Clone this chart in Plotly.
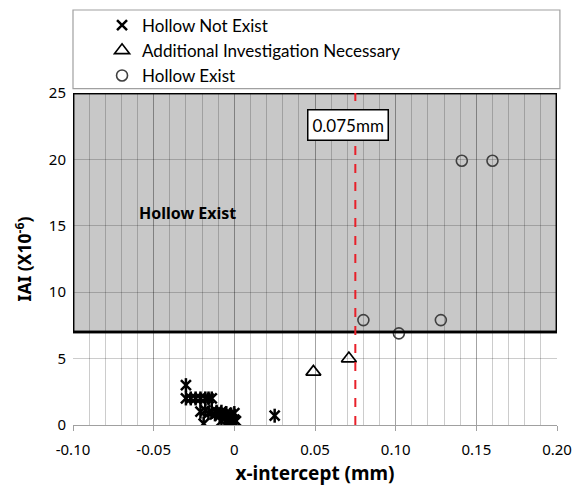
import plotly.graph_objects as go

# ---- data ----
not_exist_x = [-0.030, -0.030, -0.027, -0.024, -0.021, -0.018, -0.016, -0.014,
               -0.021, -0.018, -0.016, -0.014, -0.012, -0.011, -0.009, -0.008,
               -0.006, -0.005, -0.003, -0.002, 0.000, 0.000,
               -0.019, -0.008, -0.004, -0.001, 0.001, 0.025]
not_exist_y = [3.0, 2.0, 2.0, 2.0, 2.0, 2.0, 2.0, 2.0,
               1.0, 1.1, 0.9, 1.0, 0.8, 1.0, 0.7, 1.0,
               0.6, 0.9, 0.5, 0.8, 0.4, 0.9,
               0.1, 0.3, 0.2, 0.1, 0.3, 0.7]
additional_x = [0.049, 0.071]
additional_y = [4.0, 5.0]
exist_x = [0.080, 0.102, 0.128, 0.141, 0.160]
exist_y = [7.9, 6.9, 7.9, 19.9, 19.9]

threshold_x = 0.075
threshold_label = "0.075mm"
region_y_min = 7
x_min, x_max = -0.10, 0.20
y_min, y_max = 0, 25
x_tick_vals = [-0.10, -0.05, 0, 0.05, 0.10, 0.15, 0.20]
x_tick_text = ["-0.10", "-0.05", "0", "0.05", "0.10", "0.15", "0.20"]
y_tick_vals = [0, 5, 10, 15, 20, 25]

tick_font = dict(family="Noto Sans, Liberation Sans, sans-serif", size=15, color="#000")
title_font = dict(family="Noto Sans, Open Sans, sans-serif", size=19, color="#000")
ytitle_font = dict(family="Noto Sans, Open Sans, sans-serif", size=17.5, color="#000")
legend_font = dict(family="Lato, sans-serif", size=17, color="#000")

fig = go.Figure()

fig.add_trace(go.Scatter(
    x=not_exist_x, y=not_exist_y, mode="markers", name="Hollow Not Exist",
    legendgroup="a",
    marker=dict(symbol="x-thin-open", size=10, line=dict(color="#000", width=2.5), color="#000"),
))
fig.add_trace(go.Scatter(
    x=not_exist_x, y=not_exist_y, mode="markers", name="Hollow Not Exist",
    legendgroup="a", showlegend=False,
    marker=dict(symbol="line-ns-open", size=10, line=dict(color="#000", width=2.5), color="#000"),
))
fig.add_trace(go.Scatter(
    x=additional_x, y=additional_y, mode="markers", name="Additional Investigation Necessary",
    marker=dict(symbol="triangle-up-open", size=13, line=dict(color="#000", width=1.7), color="#000"),
))
fig.add_trace(go.Scatter(
    x=exist_x, y=exist_y, mode="markers", name="Hollow Exist",
    marker=dict(symbol="circle-open", size=11, line=dict(color="#404040", width=1.6), color="#404040"),
))

# shaded "Hollow Exist" region
fig.add_shape(type="rect", xref="x", yref="y", x0=x_min, x1=x_max, y0=region_y_min, y1=y_max,
              fillcolor="#c8c8c8", line=dict(color="#000", width=2.5), layer="below")
fig.add_shape(type="rect", xref="x", yref="y", x0=x_min, x1=x_max, y0=region_y_min, y1=y_max,
              fillcolor="rgba(0,0,0,0)", line=dict(color="#000", width=2.5), layer="above")
# threshold line
fig.add_shape(type="line", xref="x", yref="y", x0=threshold_x, x1=threshold_x, y0=y_min, y1=y_max,
              line=dict(color="#e8202a", width=2, dash="dash"), layer="above")
# legend box
fig.add_shape(type="rect", xref="paper", yref="paper", x0=0, x1=1.006, y0=1.013, y1=1.25,
              fillcolor="white", line=dict(color="#a0a0a0", width=1.2), layer="below")

fig.add_annotation(x=0.0705, y=22.6, xref="x", yref="y", text=threshold_label, showarrow=False,
                   font=dict(family="Lato, sans-serif", size=17, color="#000"),
                   bgcolor="white", bordercolor="#000", borderwidth=1.5, borderpad=4)
fig.add_annotation(x=-0.0605, y=16.0, xref="x", yref="y", text="<b>Hollow Exist</b>", showarrow=False,
                   xanchor="left", font=dict(family="Noto Sans, sans-serif", size=16, color="#000"))

fig.update_layout(
    width=574, height=486,
    margin=dict(l=73, r=17, t=93, b=61, autoexpand=False),
    paper_bgcolor="white", plot_bgcolor="white",
    showlegend=True,
    legend=dict(x=0.06, y=1.257, xanchor="left", yanchor="top", bgcolor="rgba(0,0,0,0)",
                borderwidth=0, font=legend_font, tracegroupgap=0, traceorder="normal"),
    xaxis=dict(range=[x_min, x_max], tickvals=x_tick_vals, ticktext=x_tick_text,
               automargin=False,
               showgrid=True, gridcolor="rgba(0,0,0,0.2)", gridwidth=1,
               minor=dict(dtick=0.01, showgrid=True, gridcolor="rgba(0,0,0,0.2)", gridwidth=1),
               ticks="outside", ticklen=5, tickcolor="#a0a0a0", ticklabelstandoff=6,
               showline=True, linecolor="#a0a0a0", linewidth=1,
               zeroline=False, tickfont=tick_font,
               title=dict(text="<b>x-intercept (mm)</b>", font=title_font, standoff=9)),
    yaxis=dict(range=[y_min, y_max], tickvals=y_tick_vals, automargin=False,
               showgrid=True, gridcolor="rgba(0,0,0,0.2)", gridwidth=1,
               zeroline=False, showline=False, ticks="", tickfont=tick_font,
               ticklabelstandoff=6,
               title=dict(text="<b>IAI (X10<sup>-6</sup>)</b>", font=ytitle_font, standoff=12)),
)

fig.write_html("out.html")
